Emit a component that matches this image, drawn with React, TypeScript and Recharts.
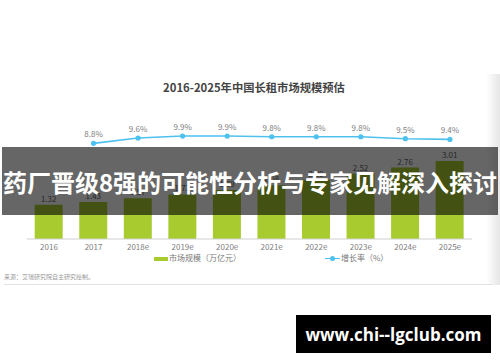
import React from 'react';
import { ComposedChart, Bar, Line, XAxis, YAxis, LabelList } from 'recharts';

const years = ['2016', '2017', '2018e', '2019e', '2020e', '2021e', '2022e', '2023e', '2024e', '2025e'];
const marketSize = [1.32, 1.43, 1.57, 1.72, 1.89, 2.08, 2.29, 2.52, 2.76, 3.01];
const growthRate: (number | null)[] = [null, 8.8, 9.6, 9.9, 9.9, 9.8, 9.8, 9.8, 9.5, 9.4];

const title = '2016-2025年中国长租市场规模预估';
const barName = '市场规模（万亿元）';
const lineName = '增长率（%）';
const source = '来源：艾瑞研究院自主研究绘制。';
const overlayText = '药厂晋级8强的可能性分析与专家见解深入探讨';
const watermark = 'www.chi--lgclub.com';

const data = years.map((y, i) => ({ year: y, size: marketSize[i], rate: growthRate[i] }));

const GREEN = '#a8cc30';
const BLUE = '#4fc1ee';
const FONT = '"Noto Sans CJK SC", "Noto Sans", sans-serif';

export default function App() {
  return (
    <div style={{ position: 'absolute', left: 0, top: 0, width: 500, height: 362, background: '#fff', overflow: 'hidden', fontFamily: FONT }}>
      {/* right gray strip */}
      <div style={{ position: 'absolute', left: 486, top: 74, width: 14, height: 211, background: 'linear-gradient(to right, #ffffff, #e6e6e6)' }} />
      {/* title */}
      <div style={{ position: 'absolute', left: 0, width: 500, top: 78, textAlign: 'center', fontSize: 11.3, fontWeight: 700, color: '#444', lineHeight: '18px', paddingLeft: 4 }}>{title}</div>
      <div style={{ position: 'absolute', left: 0, top: 0 }}>
        <ComposedChart width={500} height={362} data={data} margin={{ top: 135.4, right: 27.8, bottom: 93, left: 26.7 }}>
          <XAxis dataKey="year" height={30} tickLine={false} axisLine={{ stroke: '#cfcfcf' }} tick={{ fontSize: 8, fill: '#808080', fontFamily: FONT }} tickSize={3} interval={0} />
          <YAxis yAxisId="left" domain={[0, 4]} hide />
          <YAxis yAxisId="right" orientation="right" domain={[-5.6, 10]} hide />
          <Bar yAxisId="left" dataKey="size" fill={GREEN} barSize={28} isAnimationActive={false}>
            <LabelList dataKey="size" position="top" offset={3} style={{ fontSize: 8, fill: '#666', fontFamily: FONT }} formatter={(v: number) => v.toFixed(2)} />
          </Bar>
          <Line yAxisId="right" dataKey="rate" stroke={BLUE} strokeWidth={1.6} dot={{ r: 2.6, fill: BLUE, stroke: BLUE, strokeWidth: 0 }} isAnimationActive={false} connectNulls={false}>
            <LabelList dataKey="rate" position="top" offset={6} style={{ fontSize: 8, fill: '#808080', fontFamily: FONT }} formatter={(v: number | null) => (v == null ? '' : v.toFixed(1) + '%')} />
          </Line>
        </ComposedChart>
      </div>
      {/* legend */}
      <div style={{ position: 'absolute', left: 154, top: 257, width: 14, height: 3.5, background: GREEN }} />
      <div style={{ position: 'absolute', left: 169, top: 252, fontSize: 8, color: '#777', lineHeight: '12px', whiteSpace: 'nowrap' }}>{barName}</div>
      <div style={{ position: 'absolute', left: 325, top: 257.5, width: 15, height: 1.6, background: BLUE }} />
      <div style={{ position: 'absolute', left: 330, top: 255.8, width: 5, height: 5, borderRadius: 3, background: BLUE }} />
      <div style={{ position: 'absolute', left: 341, top: 252, fontSize: 8, color: '#777', lineHeight: '12px', whiteSpace: 'nowrap' }}>{lineName}</div>
      {/* source */}
      <div style={{ position: 'absolute', left: 4, top: 273, fontSize: 6, color: '#999', lineHeight: '8px', whiteSpace: 'nowrap' }}>{source}</div>
      <div style={{ position: 'absolute', left: 4, top: 284, width: 488, height: 1, background: '#e2e2e2' }} />
      {/* overlay band */}
      <div style={{ position: 'absolute', left: 2, top: 147, width: 496, height: 68, background: 'rgba(0,0,0,0.6)' }} />
      <div style={{ position: 'absolute', left: 0, top: 147, width: 500, height: 68, display: 'flex', alignItems: 'center', justifyContent: 'center', color: '#fff', fontSize: 24, fontWeight: 700, whiteSpace: 'nowrap', letterSpacing: 0 }}>{overlayText}</div>
      {/* watermark */}
      <div style={{ position: 'absolute', left: 296, top: 315, width: 195, height: 38, background: '#000', display: 'flex', alignItems: 'center', justifyContent: 'center', color: '#fff', fontSize: 17, fontWeight: 700, fontFamily: '"Open Sans", "Noto Sans", sans-serif', whiteSpace: 'nowrap' }}>{watermark}</div>
    </div>
  );
}
